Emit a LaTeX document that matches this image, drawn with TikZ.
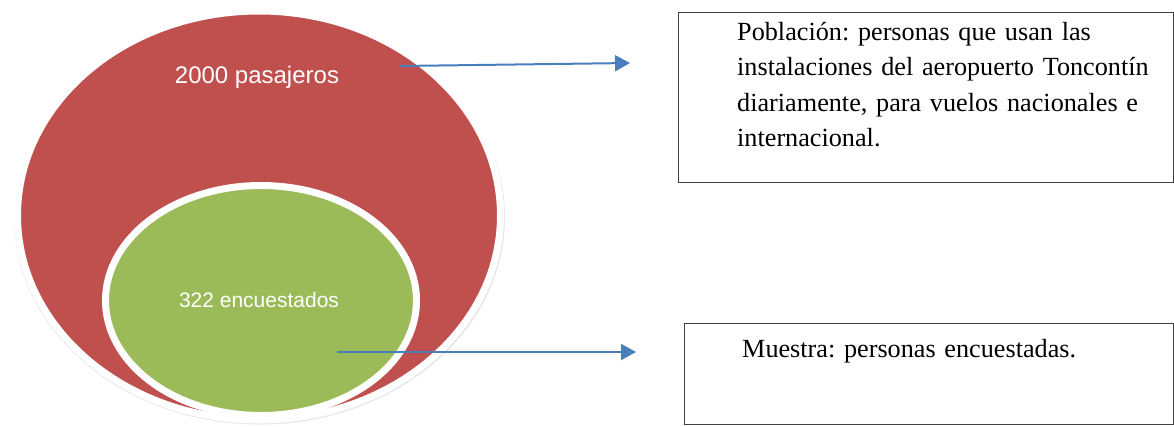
\documentclass[tikz,border=0pt]{standalone}
\usepackage{fontspec}
\setmainfont{Liberation Serif}
\newfontfamily\setfont{Liberation Sans}
\usetikzlibrary{shapes.geometric,arrows.meta,positioning,calc}
\definecolor{ink}{HTML}{000000}
\definecolor{popfill}{HTML}{C0504D}
\definecolor{smpfill}{HTML}{9BBB59}
\definecolor{halo}{HTML}{E6E6E6}
\definecolor{link}{HTML}{4A7EBB}
\definecolor{frame}{HTML}{404040}
\frenchspacing

\begin{document}
\begin{tikzpicture}[
  x=1pt, y=-1pt, color=ink,
  set/.style={ellipse, draw=white, line width=7pt, inner sep=0pt},
  setlbl/.style={text=white, anchor=base, inner sep=0pt},
  note/.style={rectangle, draw=frame, line width=1.2pt, anchor=north west, inner sep=0pt},
  notetxt/.style={anchor=base west, align=left, inner sep=0pt,
                  font=\fontsize{26.2}{35.5}\selectfont},
  pointer/.style={-{Triangle[length=15pt, width=16pt]}, line width=2pt, color=link},
]
\useasboundingbox (0,0) rectangle (1174,426);

% ---- soft shadow under the outer set ----
\fill[halo] (259.5,217.5) ellipse (245.5 and 207);

% ---- sets (ellipses) ----
\node[set, fill=popfill, minimum width=483pt, minimum height=409pt] (pop) at (259,215.5) {};
\node[set, fill=smpfill, minimum width=311pt, minimum height=230pt] (smp) at (261,300.5) {};

\node[setlbl, font=\setfont\fontsize{24}{28}\selectfont] (poplbl) at (257,83) {2000 pasajeros};
\node[setlbl, font=\setfont\fontsize{21}{25}\selectfont] (smplbl) at (259,307) {322 encuestados};

% ---- notes (boxes on the right) ----
\node[note, minimum width=495pt, minimum height=170pt] (popnote) at (678,12) {};
\node[note, minimum width=489pt, minimum height=101pt] (smpnote) at (684,323) {};

\node[notetxt, text width=430pt] (poptxt) at (737,40)
  {Población: personas que usan las\\
   instalaciones del aeropuerto Toncontín\\
   diariamente, para vuelos nacionales e\\
   internacional.};
\node[notetxt, text width=420pt] (smptxt) at (742,357) {Muestra: personas encuestadas.};

% ---- pointers from the sets towards the notes ----
\coordinate (popsrc) at (400,66);
\coordinate (popdst) at (630,63);
\coordinate (smpsrc) at (337,352);
\coordinate (smpdst) at (636,352);
\draw[pointer] (popsrc) -- (popdst);
\draw[pointer] (smpsrc) -- (smpdst);
\end{tikzpicture}
\end{document}
